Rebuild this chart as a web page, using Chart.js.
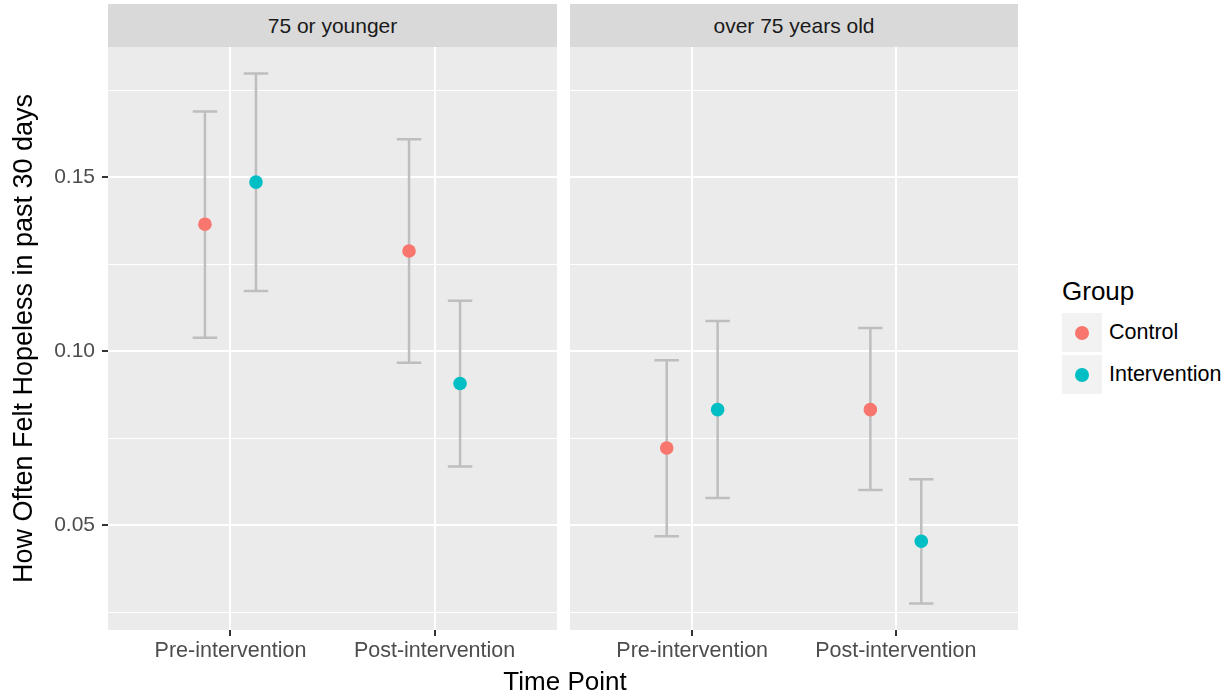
<!DOCTYPE html>
<html>
<head>
<meta charset="utf-8">
<script src="https://cdn.jsdelivr.net/npm/chart.js@4.4.1/dist/chart.umd.min.js"></script>
<style>
  body { margin:0; background:#fff; width:1232px; height:698px; overflow:hidden; position:relative;
         font-family:"Liberation Sans", Arial, sans-serif; }
  canvas { position:absolute; top:0; }
  #c1 { left:0; }
  #c2 { left:560px; }
  .strip { position:absolute; top:4px; height:43px; background:#D9D9D9; color:#1A1A1A; font-size:21px;
           display:flex; align-items:center; justify-content:center; white-space:nowrap; }
  #xtitle { position:absolute; left:465px; width:200px; top:668px; line-height:26px; font-size:26px;
            text-align:center; color:#000; white-space:nowrap; }
  #legend { position:absolute; left:1062px; top:278px; }
  #legend .title { font-size:26px; line-height:26px; color:#000; height:35px; }
  .item { position:relative; height:42px; }
  .key { position:absolute; left:0; top:0; width:40px; height:39px; background:#F2F2F2; }
  .dot { position:absolute; left:13px; top:13px; width:14px; height:14px; border-radius:50%; }
  .lab { position:absolute; left:47px; top:9px; font-size:21.5px; line-height:21px; color:#000; white-space:nowrap; }
</style>
</head>
<body>
<canvas id="c1" width="560" height="698"></canvas>
<canvas id="c2" width="460" height="698"></canvas>
<div class="strip" id="s1" style="left:108px;width:449px;"></div>
<div class="strip" id="s2" style="left:570px;width:448px;"></div>
<div id="xtitle"></div>
<div id="legend"></div>
<script>
// ---------------- data ----------------
const panelLabels = ['75 or younger', 'over 75 years old'];
const timePoints = ['Pre-intervention', 'Post-intervention'];
const groupNames = ['Control', 'Intervention'];
const groupColors = ['#F8766D', '#00BFC4'];

const youngControlMean  = [0.1365, 0.1288];
const youngControlLower = [0.1039, 0.0967];
const youngControlUpper = [0.1689, 0.1609];
const youngInterMean    = [0.1486, 0.0907];
const youngInterLower   = [0.1173, 0.0669];
const youngInterUpper   = [0.1798, 0.1145];

const oldControlMean  = [0.0722, 0.0832];
const oldControlLower = [0.0468, 0.0601];
const oldControlUpper = [0.0974, 0.1067];
const oldInterMean    = [0.0832, 0.0454];
const oldInterLower   = [0.0578, 0.0275];
const oldInterUpper   = [0.1087, 0.0632];

const yTickValues = [0.05, 0.10, 0.15];
const yTickLabels = ['0.05', '0.10', '0.15'];
const yMinorValues = [0.025, 0.075, 0.125, 0.175];

const yTitle = 'How Often Felt Hopeless in past 30 days';
const xTitle = 'Time Point';
const legendTitle = 'Group';

// ---------------- layout / style ----------------
const FONT = '"Liberation Sans", Arial, sans-serif';
const dodge = [-0.125, 0.125];
const capHalf = 0.06;

const allVals = [].concat(youngControlLower, youngControlUpper, youngInterLower, youngInterUpper,
                          oldControlLower, oldControlUpper, oldInterLower, oldInterUpper);
const dMin = Math.min(...allVals), dMax = Math.max(...allVals);
const yMin = dMin - 0.05 * (dMax - dMin);
const yMax = dMax + 0.05 * (dMax - dMin);

const isMajor = v => yTickValues.some(t => Math.abs(t - v) < 1e-9);

document.getElementById('s1').textContent = panelLabels[0];
document.getElementById('s2').textContent = panelLabels[1];
document.getElementById('xtitle').textContent = xTitle;

const leg = document.getElementById('legend');
leg.innerHTML = '<div class="title"></div>';
leg.querySelector('.title').textContent = legendTitle;
groupNames.forEach((g, i) => {
  const it = document.createElement('div');
  it.className = 'item';
  it.innerHTML = '<div class="key"><div class="dot"></div></div><div class="lab"></div>';
  it.querySelector('.dot').style.background = groupColors[i];
  it.querySelector('.lab').textContent = g;
  leg.appendChild(it);
});

const panelBg = {
  id: 'panelBg',
  beforeDraw(chart) {
    const {ctx, chartArea: a} = chart;
    ctx.save();
    ctx.fillStyle = '#EBEBEB';
    ctx.fillRect(a.left, a.top, a.right - a.left, a.bottom - a.top);
    ctx.restore();
  }
};

const errorBars = {
  id: 'errorBars',
  beforeDatasetsDraw(chart) {
    const {ctx, scales: {x, y}} = chart;
    ctx.save();
    ctx.strokeStyle = '#BEBEBE';
    ctx.lineWidth = 2.5;
    chart.data.datasets.forEach(ds => {
      ds.data.forEach((p, i) => {
        const px = x.getPixelForValue(p.x);
        const yl = y.getPixelForValue(ds.lower[i]);
        const yh = y.getPixelForValue(ds.upper[i]);
        const xl = x.getPixelForValue(p.x - capHalf);
        const xr = x.getPixelForValue(p.x + capHalf);
        ctx.beginPath();
        ctx.moveTo(px, yl); ctx.lineTo(px, yh);
        ctx.moveTo(xl, yl); ctx.lineTo(xr, yl);
        ctx.moveTo(xl, yh); ctx.lineTo(xr, yh);
        ctx.stroke();
      });
    });
    ctx.restore();
  }
};

function makeDataset(gi, mean, lower, upper) {
  return {
    label: groupNames[gi],
    data: mean.map((m, i) => ({x: i + 1 + dodge[gi], y: m})),
    lower, upper,
    backgroundColor: groupColors[gi],
    borderWidth: 0,
    pointRadius: 6.8,
    pointHoverRadius: 6.8
  };
}

function makePanel(id, datasets, showY, padLeft, padRight) {
  new Chart(document.getElementById(id), {
    type: 'scatter',
    data: {datasets},
    plugins: [panelBg, errorBars],
    options: {
      responsive: false,
      animation: false,
      events: [],
      layout: {autoPadding: false, padding: {top: 47, bottom: 0, left: padLeft, right: padRight}},
      plugins: {legend: {display: false}, tooltip: {enabled: false}},
      scales: {
        x: {
          type: 'linear', bounds: 'data', min: 0.4, max: 2.6,
          afterBuildTicks: s => { s.ticks = timePoints.map((_, i) => ({value: i + 1})); },
          afterFit: s => { s.height = 68; s.paddingLeft = 0; s.paddingRight = 0; },
          ticks: {
            color: '#4D4D4D', font: {family: FONT, size: 21.5}, padding: 2,
            maxRotation: 0, minRotation: 0, autoSkip: false,
            callback: v => timePoints[Math.round(v) - 1] || ''
          },
          grid: {color: '#FFFFFF', lineWidth: 2, tickColor: '#333333', tickLength: 6, tickWidth: 2},
          border: {display: false}
        },
        y: {
          type: 'linear', bounds: 'data', min: yMin, max: yMax,
          afterBuildTicks: s => {
            s.ticks = [...yMinorValues, ...yTickValues].sort((a, b) => a - b).map(v => ({value: v}));
          },
          afterFit: s => { s.width = showY ? 108 : 0; s.paddingTop = 0; s.paddingBottom = 0; },
          ticks: {
            display: showY, color: '#4D4D4D', font: {family: FONT, size: 21}, padding: 7,
            callback: v => { const i = yTickValues.findIndex(t => Math.abs(t - v) < 1e-9); return i >= 0 ? yTickLabels[i] : ''; }
          },
          title: {
            display: showY, text: yTitle, color: '#000', font: {family: FONT, size: 27},
            padding: {top: 8, bottom: 0}
          },
          grid: {
            color: '#FFFFFF',
            lineWidth: c => isMajor(c.tick.value) ? 2 : 1,
            drawTicks: showY,
            tickColor: c => isMajor(c.tick.value) ? '#333333' : 'rgba(0,0,0,0)',
            tickLength: 6, tickWidth: 2
          },
          border: {display: false}
        }
      }
    }
  });
}

makePanel('c1', [
  makeDataset(0, youngControlMean, youngControlLower, youngControlUpper),
  makeDataset(1, youngInterMean, youngInterLower, youngInterUpper)
], true, 0, 3);

makePanel('c2', [
  makeDataset(0, oldControlMean, oldControlLower, oldControlUpper),
  makeDataset(1, oldInterMean, oldInterLower, oldInterUpper)
], false, 10, 2);
</script>
</body>
</html>
